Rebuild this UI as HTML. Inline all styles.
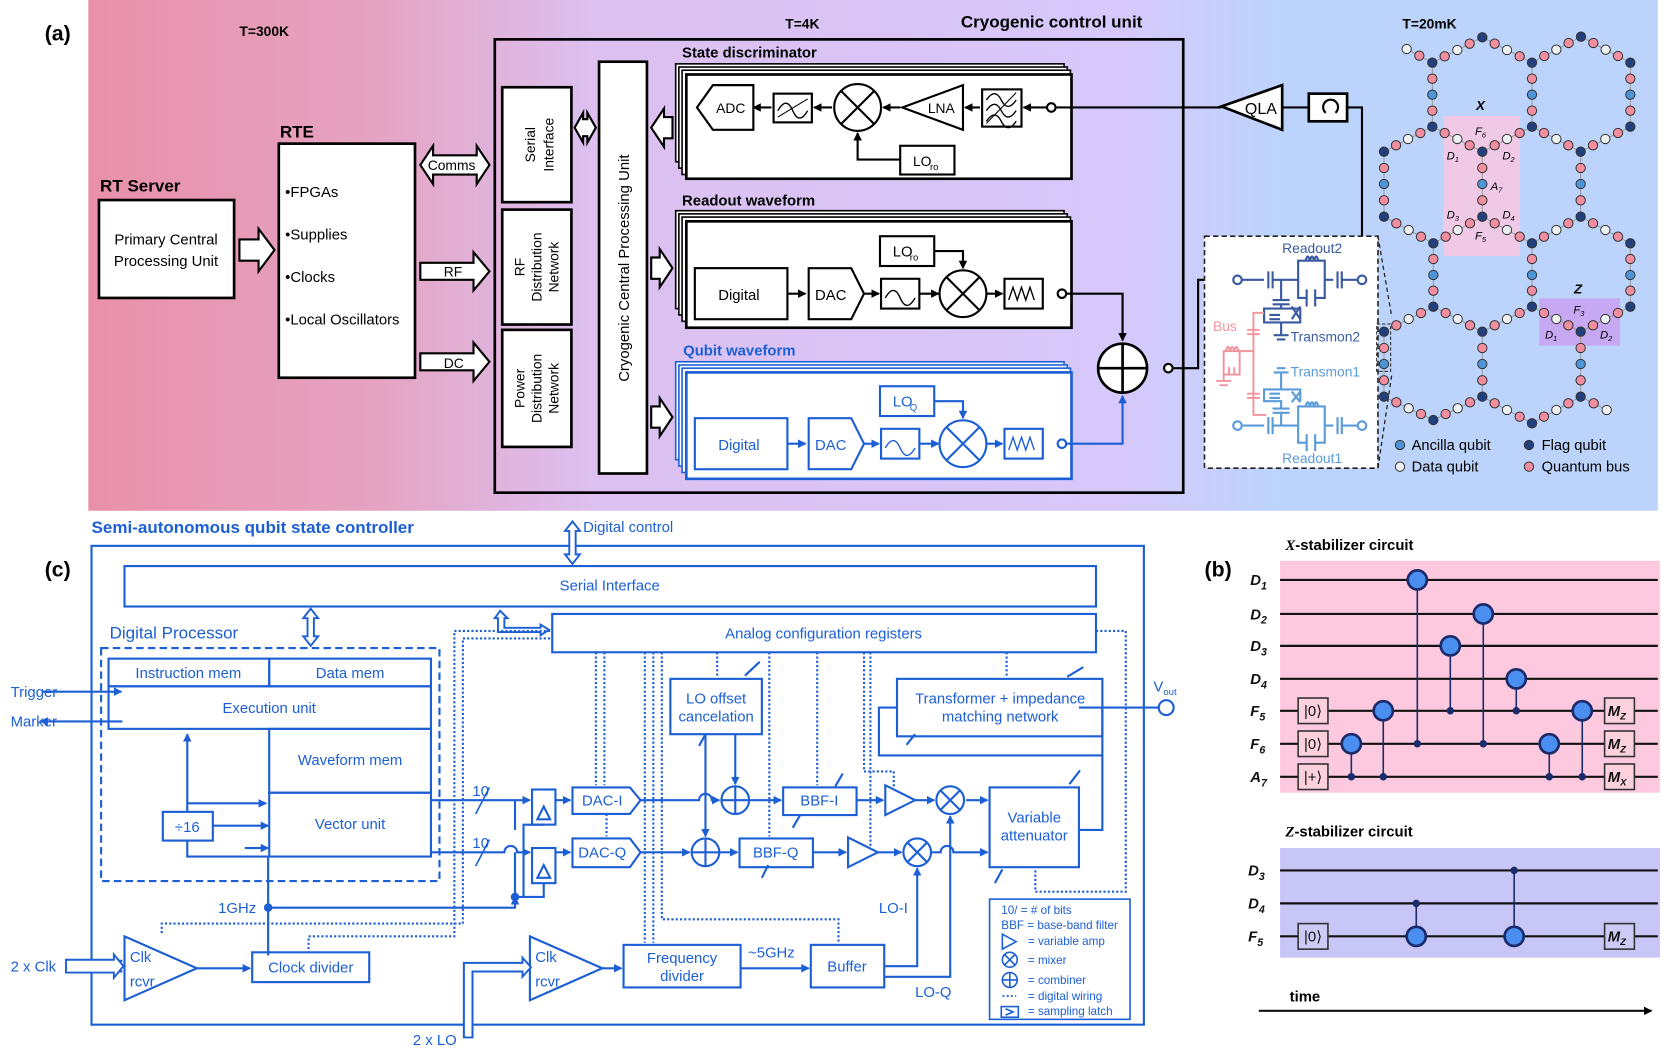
<!DOCTYPE html>
<html><head><meta charset="utf-8"><style>
html,body{margin:0;padding:0;background:#fff}
svg{display:block}
text{font-family:"Liberation Sans",sans-serif}
.it{font-family:"Liberation Serif",serif;font-style:italic;font-weight:bold}
</style></head><body>
<svg xmlns="http://www.w3.org/2000/svg" xmlns:xlink="http://www.w3.org/1999/xlink" width="1661" height="1055" viewBox="0 0 1561 991.5">
<defs>
<linearGradient id="bg" x1="0" x2="1" y1="0" y2="0">
<stop offset="0" stop-color="#e990ab"/><stop offset="0.18" stop-color="#e5a3c0"/><stop offset="0.32" stop-color="#dcc0ef"/><stop offset="0.66" stop-color="#d6c8fb"/><stop offset="0.76" stop-color="#bcd4fb"/><stop offset="1" stop-color="#bcd4fb"/>
</linearGradient>
<marker id="ab" markerWidth="8" markerHeight="8" refX="7" refY="4" orient="auto" markerUnits="userSpaceOnUse"><path d="M0,0 L8,4 L0,8z" fill="#1c5fd4"/></marker>
<marker id="ak" markerWidth="8" markerHeight="8" refX="7" refY="4" orient="auto" markerUnits="userSpaceOnUse"><path d="M0,0 L8,4 L0,8z" fill="#000"/></marker>
<circle id="nf" r="14" fill="#22407e" stroke="#333" stroke-width="3"/>
<circle id="nb" r="14" fill="#f28ea0" stroke="#333" stroke-width="3"/>
<circle id="nd" r="14" fill="#eef2f2" stroke="#333" stroke-width="3"/>
<circle id="na" r="14" fill="#4e95d8" stroke="#333" stroke-width="3"/>
</defs>
<rect x="83" y="0" width="1475" height="480" fill="url(#bg)"/>
<!-- (a) -->
<g font-size="13" fill="#000">
<text x="42" y="38" font-size="20" font-weight="bold">(a)</text>
<text x="225" y="34" font-weight="bold">T=300K</text>
<text x="738" y="27" font-weight="bold">T=4K</text>
<text x="903" y="26" font-size="16" font-weight="bold">Cryogenic control unit</text>
<text x="1318" y="27" font-weight="bold">T=20mK</text>
<text x="94" y="180" font-size="16" font-weight="bold">RT Server</text>
<text x="263" y="129" font-size="16" font-weight="bold">RTE</text>
</g>
<g fill="#fff" stroke="#000" stroke-width="2.5">
<rect x="93" y="188" width="127" height="92"/>
<rect x="262" y="135" width="128" height="220"/>
<rect x="465" y="37" width="647" height="426" fill="none"/>
<rect x="472" y="82" width="65" height="108"/>
<rect x="472" y="197" width="65" height="108"/>
<rect x="472" y="310" width="65" height="110"/>
<rect x="563" y="58" width="45" height="387"/>
</g>
<g font-size="14" fill="#000">
<text x="156" y="230" text-anchor="middle">Primary Central</text>
<text x="156" y="250" text-anchor="middle">Processing Unit</text>
<text x="268" y="185">•FPGAs</text>
<text x="268" y="225">•Supplies</text>
<text x="268" y="265">•Clocks</text>
<text x="268" y="305">•Local Oscillators</text>
<text transform="translate(503,136) rotate(-90)" text-anchor="middle" font-size="13">Serial</text>
<text transform="translate(520,136) rotate(-90)" text-anchor="middle" font-size="13">Interface</text>
<text transform="translate(493,251) rotate(-90)" text-anchor="middle" font-size="13">RF</text>
<text transform="translate(509,251) rotate(-90)" text-anchor="middle" font-size="13">Distribution</text>
<text transform="translate(525,251) rotate(-90)" text-anchor="middle" font-size="13">Network</text>
<text transform="translate(493,365) rotate(-90)" text-anchor="middle" font-size="13">Power</text>
<text transform="translate(509,365) rotate(-90)" text-anchor="middle" font-size="13">Distribution</text>
<text transform="translate(525,365) rotate(-90)" text-anchor="middle" font-size="13">Network</text>
<text transform="translate(591,252) rotate(-90)" text-anchor="middle" font-size="14">Cryogenic Central Processing Unit</text>
</g>
<g fill="#fff" stroke="#000" stroke-width="2">
<path d="M225,225 h18 v-10 l15,20 l-15,20 v-10 h-18z"/>
<path d="M395,155 l12,-18 v9 h41 v-9 l12,18 l-12,18 v-9 h-41 v9z"/>
<path d="M395,247 h50 v-10 l15,18 l-15,18 v-10 h-50z"/>
<path d="M395,332 h50 v-10 l15,18 l-15,18 v-10 h-50z"/>
<path d="M540,120 l8,-14 v6 h4 v-6 l8,14 l-8,14 v-6 h-4 v6z"/>
<path d="M632,110 h-8 v-8 l-12,18 l12,18 v-8 h8z"/>
<path d="M612,242 h8 v-8 l12,18 l-12,18 v-8 h-8z"/>
<path d="M612,382 h8 v-8 l12,18 l-12,18 v-8 h-8z"/>
</g>
<g font-size="13" fill="#000"><text x="402" y="160">Comms</text><text x="417" y="260">RF</text><text x="417" y="346">DC</text></g>
<g fill="#fff" stroke="#000" stroke-width="1.5">
<rect x="635" y="60" width="365" height="92"/><rect x="638" y="63" width="365" height="95"/><rect x="641" y="66" width="365" height="98"/>
<rect x="645" y="70" width="362" height="98" stroke-width="2.5"/>
<rect x="635" y="198" width="365" height="92"/><rect x="638" y="201" width="365" height="95"/><rect x="641" y="204" width="365" height="98"/>
<rect x="645" y="208" width="362" height="100" stroke-width="2.5"/>
</g>
<g fill="#fff" stroke="#1c5fd4" stroke-width="1.5">
<rect x="635" y="340" width="365" height="92"/><rect x="638" y="343" width="365" height="95"/><rect x="641" y="346" width="365" height="98"/>
<rect x="645" y="350" width="362" height="100" stroke-width="2.5"/>
</g>
<g font-size="14" font-weight="bold"><text x="641" y="54">State discriminator</text><text x="641" y="193">Readout waveform</text><text x="642" y="334" fill="#1c5fd4">Qubit waveform</text></g>
<g stroke="#000" stroke-width="2" fill="#fff">
<path d="M655,101 L670,80 H708 V122 H670z"/>
<rect x="727" y="88" width="36" height="27"/>
<circle cx="806" cy="101" r="22"/>
<path d="M790,85 L822,117 M822,85 L790,117"/>
<path d="M848,101 L905,80 V122z"/>
<rect x="923" y="84" width="37" height="35"/>
<rect x="846" y="137" width="51" height="27"/>
<path d="M725,101 H708" fill="none" marker-end="url(#ak)"/>
<path d="M782,101 H765" fill="none" marker-end="url(#ak)"/>
<path d="M846,101 H830" fill="none" marker-end="url(#ak)"/>
<path d="M921,101 H907" fill="none" marker-end="url(#ak)"/>
<path d="M984,101 H962" fill="none" marker-end="url(#ak)"/>
<path d="M846,150 H806 V125" fill="none" marker-end="url(#ak)"/>
<path d="M992,101 H1148" fill="none"/>
<circle cx="988" cy="101" r="4"/>
<path d="M731,104 q8,-14 14,0 t14,0 M927,94 q8,-12 14,0 t14,0 M927,104 q8,-12 14,0 t14,0 M927,114 q8,-12 14,0 t14,0" fill="none" stroke-width="1.3"/>
<path d="M731,110 L759,93 M927,116 L955,87" fill="none" stroke-width="1"/>
</g>
<g font-size="13"><text x="673" y="106">ADC</text><text x="872" y="106">LNA</text><text x="858" y="156">LO</text><text x="874" y="160" font-size="9">ro</text></g>
<g stroke="#000" stroke-width="2" fill="#fff">
<rect x="653" y="252" width="87" height="48"/>
<path d="M760,252 H800 L812,276 L800,300 H760z"/>
<rect x="828" y="262" width="36" height="28"/>
<circle cx="905" cy="276" r="22"/><path d="M889,260 L921,292 M921,260 L889,292"/>
<rect x="827" y="222" width="51" height="28"/>
<rect x="944" y="262" width="36" height="28"/>
<circle cx="998" cy="276" r="4"/>
<path d="M740,276 H757" fill="none" marker-end="url(#ak)"/>
<path d="M812,276 H826" fill="none" marker-end="url(#ak)"/>
<path d="M864,276 H882" fill="none" marker-end="url(#ak)"/>
<path d="M927,276 H942" fill="none" marker-end="url(#ak)"/>
<path d="M878,236 H905 V252" fill="none" marker-end="url(#ak)"/>
<path d="M1002,276 H1055 V320" fill="none" marker-end="url(#ak)"/>
<path d="M832,280 q8,-14 14,0 t14,0 M948,282 l4,-12 l4,12 l4,-12 l4,12 l4,-12 l4,12" fill="none" stroke-width="1.3"/>
</g>
<g font-size="14"><text x="675" y="282">Digital</text><text x="766" y="282">DAC</text><text x="839" y="241">LO</text><text x="855" y="245" font-size="9">ro</text></g>
<g stroke="#1c5fd4" stroke-width="2" fill="#fff">
<rect x="653" y="393" width="87" height="48"/>
<path d="M760,393 H800 L812,417 L800,441 H760z"/>
<rect x="828" y="403" width="36" height="28"/>
<circle cx="905" cy="417" r="22"/><path d="M889,401 L921,433 M921,401 L889,433"/>
<rect x="827" y="363" width="51" height="28"/>
<rect x="944" y="403" width="36" height="28"/>
<circle cx="998" cy="417" r="4"/>
<path d="M740,417 H757" fill="none" marker-end="url(#ab)"/>
<path d="M812,417 H826" fill="none" marker-end="url(#ab)"/>
<path d="M864,417 H882" fill="none" marker-end="url(#ab)"/>
<path d="M927,417 H942" fill="none" marker-end="url(#ab)"/>
<path d="M878,377 H905 V393" fill="none" marker-end="url(#ab)"/>
<path d="M1002,417 H1055 V372" fill="none" marker-end="url(#ab)"/>
<path d="M832,421 q8,-14 14,0 t14,0 M948,423 l4,-12 l4,12 l4,-12 l4,12 l4,-12 l4,12" fill="none" stroke-width="1.3"/>
</g>
<g font-size="14" fill="#1c5fd4"><text x="675" y="423">Digital</text><text x="766" y="423">DAC</text><text x="839" y="382">LO</text><text x="855" y="386" font-size="9">Q</text></g>
<g stroke="#000" stroke-width="2.5" fill="#fff">
<circle cx="1055" cy="346" r="23"/><path d="M1032,346 H1078 M1055,323 V369"/>
<circle cx="1098" cy="346" r="4" stroke-width="2"/>
<path d="M1102,346 H1126 V263 H1160" fill="none" stroke-width="2"/>
<path d="M1148,100 L1205,80 V122z"/>
<path d="M1205,101 H1230 M1266,101 H1280 V258" fill="none" stroke-width="2"/>
<rect x="1230" y="88" width="36" height="26"/>
<path d="M1255,106 a7,7 0 1 0 -9,0" fill="none" stroke-width="2"/>
</g>
<text x="1170" y="107" font-size="15">QLA</text>
<rect x="1132" y="222" width="163" height="218" fill="#fff" stroke="#222" stroke-width="1.5" stroke-dasharray="5,3"/>
<path d="M1295,222 L1308,298 M1295,440 L1308,352" stroke="#222" stroke-width="1.2" stroke-dasharray="4,3"/>
<g stroke="#3a5aa0" stroke-width="2" fill="none">
<circle cx="1163" cy="263" r="4"/><circle cx="1280" cy="263" r="4"/>
<path d="M1167,263 H1188 M1192,255 V271 M1196,255 V271 M1196,263 H1220 M1220,263 V245 H1245 V263 H1253 M1257,255 V271 M1261,255 V271 M1261,263 H1276 M1220,263 V280 H1228 M1236,280 H1245 V263 M1228,272 V288 M1236,272 V288 M1227,245 q2,-8 4,0 q2,-8 4,0 q2,-8 4,0"/>
<path d="M1204,263 V282 M1196,282 H1212 M1196,286 H1212 M1204,286 V290 H1188 V303 H1222 V290 H1204 M1193,296 H1203 M1193,300 H1203 M1214,288 L1222,300 M1222,288 L1214,300 M1204,303 V315 M1197,315 H1211 M1200,319 H1208"/>
</g>
<g stroke="#f2949e" stroke-width="1.8" fill="none">
<path d="M1188,294 H1178 V390 H1190 M1172,310 H1184 M1172,314 H1184 M1178,330 H1165 V352 H1150 V330 H1165 M1150,340 V358 M1143,358 H1157 M1146,362 H1154 M1155,352 V345 M1160,352 V345 M1172,370 H1184 M1172,374 H1184 M1152,330 q2,-8 4,0 q2,-8 4,0 q2,-8 4,0"/>
</g>
<g stroke="#5b9bdb" stroke-width="2" fill="none">
<circle cx="1163" cy="400" r="4"/><circle cx="1280" cy="400" r="4"/>
<path d="M1167,400 H1188 M1192,392 V408 M1196,392 V408 M1196,400 H1220 M1220,400 V382 H1245 V400 H1253 M1257,392 V408 M1261,392 V408 M1261,400 H1276 M1220,400 V416 H1228 M1236,416 H1245 V400 M1228,408 V424 M1236,408 V424 M1227,382 q2,-8 4,0 q2,-8 4,0 q2,-8 4,0"/>
<path d="M1204,400 V388 M1196,388 H1212 M1196,384 H1212 M1204,384 V377 H1188 V366 H1222 V377 M1193,370 H1203 M1193,374 H1203 M1214,368 L1222,378 M1222,368 L1214,378 M1204,366 V350 M1197,350 H1211 M1200,346 H1208"/>
</g>
<g font-size="13"><text x="1205" y="238" fill="#3a5aa0">Readout2</text><text x="1213" y="321" fill="#3a5aa0">Transmon2</text><text x="1213" y="354" fill="#5b9bdb">Transmon1</text><text x="1140" y="311" fill="#f2949e">Bus</text><text x="1205" y="435" fill="#5b9bdb">Readout1</text></g>
<!-- lattice -->
<g transform="scale(0.9398) translate(1150,0) scale(0.33333)">
<rect x="880" y="348" width="230" height="420" fill="#efc9e6"/>
<rect x="1168" y="895" width="242" height="142" fill="#c7a8f2"/>
<g fill="none" stroke="#999" stroke-width="3">
<polyline points="770,147 847,188 997,112 1146,188 1293,110 1441,188"/>
<polyline points="702,455 847,380 997,455 1146,380 1292,455 1441,380"/>
<polyline points="702,650 850,730 997,650 1146,730 1292,650 1441,730"/>
<polyline points="702,995 850,920 997,995 1146,920 1292,995 1441,920"/>
<polyline points="702,1190 850,1260 997,1190 1146,1270 1292,1190 1370,1230"/>
<path d="M847,188V380M1146,188V380M1441,188V380M702,455V650M997,455V650M1292,455V650M850,730V920M1146,730V920M1441,730V920M702,995V1190M997,995V1190M1292,995V1190"/>
</g>
<!-- Z0 -->
<use href="#nd" x="770" y="147"/><use href="#nb" x="808" y="167"/>
<use href="#nf" x="847" y="188"/><use href="#nb" x="884" y="169"/><use href="#nd" x="922" y="150"/><use href="#nb" x="959" y="131"/>
<use href="#nf" x="997" y="112"/><use href="#nb" x="1034" y="131"/><use href="#nd" x="1071" y="150"/><use href="#nb" x="1109" y="169"/>
<use href="#nf" x="1146" y="188"/><use href="#nb" x="1183" y="168"/><use href="#nd" x="1219" y="149"/><use href="#nb" x="1256" y="129"/>
<use href="#nf" x="1293" y="110"/><use href="#nb" x="1330" y="129"/><use href="#nd" x="1367" y="149"/><use href="#nb" x="1404" y="168"/>
<use href="#nf" x="1441" y="188"/>
<!-- V1 -->
<use href="#nb" x="847" y="236"/><use href="#na" x="847" y="284"/><use href="#nb" x="847" y="332"/>
<use href="#nb" x="1146" y="236"/><use href="#na" x="1146" y="284"/><use href="#nb" x="1146" y="332"/>
<use href="#nb" x="1441" y="236"/><use href="#na" x="1441" y="284"/><use href="#nb" x="1441" y="332"/>
<!-- Z1 -->
<use href="#nf" x="702" y="455"/><use href="#nb" x="738" y="436"/><use href="#nd" x="774" y="417"/><use href="#nb" x="811" y="399"/>
<use href="#nf" x="847" y="380"/><use href="#nb" x="884" y="399"/><use href="#nd" x="922" y="417"/><use href="#nb" x="959" y="436"/>
<use href="#nf" x="997" y="455"/><use href="#nb" x="1034" y="436"/><use href="#nd" x="1071" y="417"/><use href="#nb" x="1109" y="399"/>
<use href="#nf" x="1146" y="380"/><use href="#nb" x="1182" y="399"/><use href="#nd" x="1219" y="417"/><use href="#nb" x="1255" y="436"/>
<use href="#nf" x="1292" y="455"/><use href="#nb" x="1329" y="436"/><use href="#nd" x="1366" y="417"/><use href="#nb" x="1404" y="399"/>
<use href="#nf" x="1441" y="380"/>
<!-- V2 -->
<use href="#nb" x="702" y="504"/><use href="#na" x="702" y="552"/><use href="#nb" x="702" y="601"/>
<use href="#nb" x="997" y="504"/><use href="#na" x="997" y="552"/><use href="#nb" x="997" y="601"/>
<use href="#nb" x="1292" y="504"/><use href="#na" x="1292" y="552"/><use href="#nb" x="1292" y="601"/>
<!-- Z2 -->
<use href="#nf" x="702" y="650"/><use href="#nb" x="739" y="670"/><use href="#nd" x="776" y="690"/><use href="#nb" x="813" y="710"/>
<use href="#nf" x="850" y="730"/><use href="#nb" x="887" y="710"/><use href="#nd" x="923" y="690"/><use href="#nb" x="960" y="670"/>
<use href="#nf" x="997" y="650"/><use href="#nb" x="1034" y="670"/><use href="#nd" x="1071" y="690"/><use href="#nb" x="1109" y="710"/>
<use href="#nf" x="1146" y="730"/><use href="#nb" x="1182" y="710"/><use href="#nd" x="1219" y="690"/><use href="#nb" x="1255" y="670"/>
<use href="#nf" x="1292" y="650"/><use href="#nb" x="1329" y="670"/><use href="#nd" x="1366" y="690"/><use href="#nb" x="1404" y="710"/>
<use href="#nf" x="1441" y="730"/>
<!-- V3 -->
<use href="#nb" x="850" y="777"/><use href="#na" x="850" y="825"/><use href="#nb" x="850" y="872"/>
<use href="#nb" x="1146" y="777"/><use href="#na" x="1146" y="825"/><use href="#nb" x="1146" y="872"/>
<use href="#nb" x="1441" y="777"/><use href="#na" x="1441" y="825"/><use href="#nb" x="1441" y="872"/>
<!-- Z3 -->
<use href="#nf" x="702" y="995"/><use href="#nb" x="739" y="976"/><use href="#nd" x="776" y="957"/><use href="#nb" x="813" y="939"/>
<use href="#nf" x="850" y="920"/><use href="#nb" x="887" y="939"/><use href="#nd" x="923" y="957"/><use href="#nb" x="960" y="976"/>
<use href="#nf" x="997" y="995"/><use href="#nb" x="1034" y="976"/><use href="#nd" x="1071" y="957"/><use href="#nb" x="1109" y="939"/>
<use href="#nf" x="1146" y="920"/><use href="#nb" x="1182" y="939"/><use href="#nd" x="1219" y="957"/><use href="#nb" x="1255" y="976"/>
<use href="#nf" x="1292" y="995"/><use href="#nb" x="1329" y="976"/><use href="#nd" x="1366" y="957"/><use href="#nb" x="1404" y="939"/>
<use href="#nf" x="1441" y="920"/>
<!-- V4 -->
<use href="#nb" x="702" y="1044"/><use href="#na" x="702" y="1092"/><use href="#nb" x="702" y="1141"/>
<use href="#nb" x="997" y="1044"/><use href="#na" x="997" y="1092"/><use href="#nb" x="997" y="1141"/>
<use href="#nb" x="1292" y="1044"/><use href="#na" x="1292" y="1092"/><use href="#nb" x="1292" y="1141"/>
<!-- Z4 -->
<use href="#nf" x="702" y="1190"/><use href="#nb" x="739" y="1207"/><use href="#nd" x="776" y="1225"/><use href="#nb" x="813" y="1242"/>
<use href="#nf" x="850" y="1260"/><use href="#nb" x="887" y="1242"/><use href="#nd" x="923" y="1225"/><use href="#nb" x="960" y="1207"/>
<use href="#nf" x="997" y="1190"/><use href="#nb" x="1034" y="1210"/><use href="#nd" x="1071" y="1230"/><use href="#nb" x="1109" y="1250"/>
<use href="#nf" x="1146" y="1270"/><use href="#nb" x="1182" y="1250"/><use href="#nd" x="1219" y="1230"/><use href="#nb" x="1255" y="1210"/>
<use href="#nf" x="1292" y="1190"/><use href="#nb" x="1331" y="1210"/><use href="#nd" x="1370" y="1230"/>
<rect x="680" y="972" width="42" height="142" fill="none" stroke="#222" stroke-width="3" stroke-dasharray="10,6"/>
<g font-family="Liberation Serif" font-style="italic" font-size="34">
<text x="978" y="330" font-weight="bold" font-size="40">X</text><text x="1272" y="880" font-weight="bold" font-size="40">Z</text>
<text x="890" y="478">D<tspan font-size="22" dy="8">1</tspan></text><text x="1057" y="478">D<tspan font-size="22" dy="8">2</tspan></text>
<text x="975" y="405">F<tspan font-size="22" dy="8">6</tspan></text><text x="1022" y="570">A<tspan font-size="22" dy="8">7</tspan></text>
<text x="890" y="655">D<tspan font-size="22" dy="8">3</tspan></text><text x="1057" y="655">D<tspan font-size="22" dy="8">4</tspan></text>
<text x="975" y="718">F<tspan font-size="22" dy="8">5</tspan></text><text x="1270" y="940">F<tspan font-size="22" dy="8">3</tspan></text>
<text x="1185" y="1015">D<tspan font-size="22" dy="8">1</tspan></text><text x="1350" y="1015">D<tspan font-size="22" dy="8">2</tspan></text>
</g>
<use href="#na" x="750" y="1335"/><use href="#nd" x="750" y="1400"/><use href="#nf" x="1137" y="1335"/><use href="#nb" x="1137" y="1400"/>
<g font-size="44"><text x="785" y="1350">Ancilla qubit</text><text x="785" y="1415">Data qubit</text><text x="1175" y="1350">Flag qubit</text><text x="1175" y="1415">Quantum bus</text></g>
</g>
<!-- (c) -->
<g fill="none" stroke="#1c5fd4" stroke-width="2">
<rect x="86" y="513" width="989" height="450"/>
<rect x="117" y="532" width="913" height="38"/>
<rect x="95" y="609" width="318" height="219" stroke-dasharray="7,4"/>
<rect x="102" y="619" width="151" height="26"/><rect x="253" y="619" width="152" height="26"/>
<rect x="102" y="645" width="303" height="40"/>
<rect x="253" y="685" width="152" height="60"/><rect x="253" y="745" width="152" height="60"/>
<rect x="153" y="763" width="47" height="27"/>
<rect x="519" y="577" width="511" height="36"/>
<rect x="630" y="638" width="86" height="52"/>
<rect x="843" y="638" width="193" height="54"/>
<path d="M538,740 H592 L602,752 L592,765 H538z M538,788 H592 L602,801 L592,815 H538z"/>
<rect x="736" y="740" width="69" height="26"/><rect x="695" y="788" width="69" height="27"/>
<rect x="930" y="740" width="84" height="75"/>
<circle cx="691" cy="752" r="13"/><path d="M678,752 H704 M691,739 V765"/>
<circle cx="663" cy="801" r="13"/><path d="M650,801 H676 M663,788 V814"/>
<circle cx="893" cy="752" r="13"/><path d="M884,743 L902,761 M902,743 L884,761"/>
<circle cx="862" cy="801" r="13"/><path d="M853,792 L871,810 M871,792 L853,810"/>
<path d="M832,738 L860,752 L832,766z M797,787 L825,801 L797,815z"/>
<rect x="500" y="742" width="22" height="33"/><rect x="500" y="797" width="22" height="33"/>
<path d="M505,770 L511,758 L517,770z M505,825 L511,813 L517,825z"/>
<circle cx="1096" cy="665" r="7"/>
<path d="M117,880 L185,910 L117,940z M498,880 L566,910 L498,940z"/>
<rect x="237" y="895" width="110" height="28"/>
<rect x="586" y="888" width="110" height="40"/>
<rect x="762" y="888" width="69" height="40"/>
<rect x="930" y="845" width="132" height="113" stroke-width="1.5"/>
<g marker-end="url(#ab)">
<path d="M405,752 H498"/><path d="M405,801 H474 a6,6 0 0 1 12,0 H498"/>
<path d="M522,752 H536"/><path d="M522,801 H536"/>
<path d="M602,752 H657 a6,6 0 0 1 12,0 H676"/><path d="M704,752 H734"/>
<path d="M602,801 H648"/><path d="M676,801 H693"/><path d="M764,801 H795"/>
<path d="M805,752 H830"/><path d="M860,752 H878"/><path d="M825,801 H847"/>
<path d="M908,752 H928"/><path d="M875,801 H884 a6,6 0 0 1 12,0 H928"/>
<path d="M663,690 V786"/><path d="M691,690 V737"/>
<path d="M831,908 H862 V816"/><path d="M831,918 H893 V767"/>
<path d="M185,910 H235"/><path d="M566,910 H584"/><path d="M696,910 H760"/>
<path d="M40,650 H114"/><path d="M115,678 H38"/>
<path d="M252,853 H484 V843"/>
<path d="M176,763 V690"/><path d="M200,776 H252"/><path d="M176,755 H250"/>
<path d="M230,797 H252"/>
</g>
<path d="M1014,665 H1089 M1036,665 V780 H1014 M843,665 H826 V710 H1036 V665"/>
<path d="M176,790 V805 H252 M252,805 V898"/>
<path d="M484,843 V801 M484,843 H492 V775 H511 M511,830 V843 H484"/>
<path d="M484,780 V752"/>
<path d="M62,903 H115 M62,913 H115 M436,975 V905 H496 M444,975 V913 H496"/>
<path d="M657,701 L663,690 M700,635 L714,622 M935,830 L942,817 M1005,737 L1015,724 M745,778 L752,766 M785,739 L792,727 M716,825 L722,813 M852,700 L860,690 M1003,636 L1018,627"/>
</g>
<circle cx="252" cy="853" r="4" fill="#1c5fd4"/><circle cx="484" cy="843" r="4" fill="#1c5fd4"/>
<!-- hollow double arrows -->
<g fill="#fff" stroke="#1c5fd4" stroke-width="1.8">
<path d="M538,490 l-7,9 h4 v22 h-4 l7,9 l7,-9 h-4 v-22 h4z"/>
<path d="M292,572 l-7,9 h4 v17 h-4 l7,9 l7,-9 h-4 v-17 h4z"/>
<path d="M470,574 l-5,7 h3 v13 h40 v3 l8,-5 l-8,-5 v3 h-34 v-9 h3z"/>
<path d="M62,902 h45 v-5 l9,11 l-9,11 v-5 h-45z"/>
<path d="M436,975 v-70 h55 v-5 l8,9 l-8,9 v-5 h-47 v62z"/>
</g>
<g fill="none" stroke="#1c5fd4" stroke-width="2" stroke-dasharray="2,2">
<path d="M560,613 V738 M568,613 V738 M570,765 V786 M606,613 V886 M614,613 V886 M622,613 V864 H788 V886 M674,613 V636 M768,613 V738 M723,613 V786 M812,613 V725 H840 V740 M818,613 V795 M946,613 V636 M1030,593 H1058 V838 H973 V817 M517,593 H427 V880 H290 V893 M517,600 H435 V868 H152 V878"/>
</g>
<g fill="#1c5fd4" font-size="14">
<text x="86" y="501" font-size="16" font-weight="bold">Semi-autonomous qubit state controller</text>
<text x="548" y="500">Digital control</text>
<text x="42" y="542" font-size="20" font-weight="bold" fill="#000">(c)</text>
<text x="573" y="555" text-anchor="middle">Serial Interface</text>
<text x="103" y="600" font-size="16">Digital Processor</text>
<text x="177" y="637" text-anchor="middle">Instruction mem</text>
<text x="329" y="637" text-anchor="middle">Data mem</text>
<text x="253" y="670" text-anchor="middle">Execution unit</text>
<text x="329" y="719" text-anchor="middle">Waveform mem</text>
<text x="329" y="779" text-anchor="middle">Vector unit</text>
<text x="176" y="782" text-anchor="middle">÷16</text>
<text x="10" y="655">Trigger</text><text x="10" y="683">Marker</text>
<text x="774" y="600" text-anchor="middle">Analog configuration registers</text>
<text x="673" y="661" text-anchor="middle">LO offset</text><text x="673" y="678" text-anchor="middle">cancelation</text>
<text x="940" y="661" text-anchor="middle">Transformer + impedance</text><text x="940" y="678" text-anchor="middle">matching network</text>
<text x="566" y="757" text-anchor="middle">DAC-I</text><text x="566" y="806" text-anchor="middle">DAC-Q</text>
<text x="770" y="757" text-anchor="middle">BBF-I</text><text x="729" y="806" text-anchor="middle">BBF-Q</text>
<text x="972" y="773" text-anchor="middle">Variable</text><text x="972" y="790" text-anchor="middle">attenuator</text>
<text x="1084" y="650">V<tspan font-size="9" dy="3">out</tspan></text>
<text x="444" y="748">10</text><text x="444" y="797">10</text>
<text x="205" y="858">1GHz</text>
<text x="10" y="913">2 x Clk</text>
<text x="122" y="904">Clk</text><text x="122" y="927">rcvr</text>
<text x="503" y="904">Clk</text><text x="503" y="927">rcvr</text>
<text x="292" y="914" text-anchor="middle">Clock divider</text>
<text x="641" y="905" text-anchor="middle">Frequency</text><text x="641" y="922" text-anchor="middle">divider</text>
<text x="703" y="900">~5GHz</text>
<text x="796" y="913" text-anchor="middle">Buffer</text>
<text x="826" y="858">LO-I</text><text x="860" y="937">LO-Q</text>
<text x="388" y="982">2 x LO</text>
<g font-size="11"><text x="941" y="859">10/ = # of bits</text><text x="941" y="873">BBF = base-band filter</text><text x="966" y="888">= variable amp</text><text x="966" y="906">= mixer</text><text x="966" y="925">= combiner</text><text x="966" y="940">= digital wiring</text><text x="966" y="954">= sampling latch</text></g>
</g>
<g fill="none" stroke="#1c5fd4" stroke-width="1.5">
<path d="M942,878 L955,885 L942,892z"/><circle cx="949" cy="902" r="7"/><path d="M944,897 L954,907 M954,897 L944,907"/>
<circle cx="949" cy="921" r="7"/><path d="M942,921 H956 M949,914 V928"/>
<path d="M942,936 H955" stroke-dasharray="2,2"/><rect x="941" y="946" width="16" height="10"/><path d="M945,948 L952,951 L945,954"/>
</g>
<path d="M447,765 L460,740 M447,814 L460,789" stroke="#1c5fd4" stroke-width="1.5"/>
<!-- (b) -->
<text x="1132" y="542" font-size="20" font-weight="bold">(b)</text>
<text x="1208" y="517" font-size="14" font-weight="bold"><tspan font-family="Liberation Serif" font-style="italic">X</tspan>-stabilizer circuit</text>
<text x="1208" y="786" font-size="14" font-weight="bold"><tspan font-family="Liberation Serif" font-style="italic">Z</tspan>-stabilizer circuit</text>
<rect x="1203" y="527" width="357" height="218" fill="#fdc9df"/>
<rect x="1203" y="797" width="357" height="103" fill="#c8c6f6"/>
<g stroke="#111" stroke-width="2">
<path d="M1203,545H1558M1203,577H1558M1203,607H1558M1203,638H1558M1203,668H1558M1203,699H1558M1203,730H1558M1203,818H1558M1203,849H1558M1203,880H1558"/>
</g>
<g font-size="14" class="it" fill="#111">
<text x="1175" y="550">D<tspan dy="4" font-size="10">1</tspan></text>
<text x="1175" y="582">D<tspan dy="4" font-size="10">2</tspan></text>
<text x="1175" y="612">D<tspan dy="4" font-size="10">3</tspan></text>
<text x="1175" y="643">D<tspan dy="4" font-size="10">4</tspan></text>
<text x="1175" y="673">F<tspan dy="4" font-size="10">5</tspan></text>
<text x="1175" y="704">F<tspan dy="4" font-size="10">6</tspan></text>
<text x="1175" y="735">A<tspan dy="4" font-size="10">7</tspan></text>
<text x="1173" y="823">D<tspan dy="4" font-size="10">3</tspan></text>
<text x="1173" y="854">D<tspan dy="4" font-size="10">4</tspan></text>
<text x="1173" y="885">F<tspan dy="4" font-size="10">5</tspan></text>
</g>
<g fill="#fcd0dc" stroke="#333" stroke-width="1.5">
<rect x="1220" y="656" width="28" height="24"/><rect x="1220" y="687" width="28" height="24"/><rect x="1220" y="718" width="28" height="24"/>
<rect x="1508" y="656" width="28" height="24"/><rect x="1508" y="687" width="28" height="24"/><rect x="1508" y="718" width="28" height="24"/>
<rect x="1220" y="868" width="28" height="24" fill="#cdcaf5"/><rect x="1508" y="868" width="28" height="24" fill="#cdcaf5"/>
</g>
<g font-size="14" font-family="Liberation Serif" fill="#111" text-anchor="middle">
<text x="1234" y="673">|0⟩</text><text x="1234" y="704">|0⟩</text><text x="1234" y="735">|+⟩</text><text x="1234" y="885">|0⟩</text>
</g>
<g font-size="14" class="it" fill="#111">
<text x="1511" y="673">M<tspan dy="3" font-size="9">Z</tspan></text><text x="1511" y="704">M<tspan dy="3" font-size="9">Z</tspan></text><text x="1511" y="735">M<tspan dy="3" font-size="9">X</tspan></text><text x="1511" y="885">M<tspan dy="3" font-size="9">Z</tspan></text>
</g>
<g stroke="#1a2a6a" stroke-width="1.5">
<path d="M1270,699V730M1300,668V730M1332,545V699M1363,607V668M1394,577V699M1425,638V668M1456,699V730M1487,668V730M1331,849V880M1423,818V880"/>
</g>
<g fill="#1a2a6a">
<circle cx="1270" cy="730" r="3.5"/><circle cx="1300" cy="730" r="3.5"/><circle cx="1332" cy="699" r="3.5"/><circle cx="1363" cy="668" r="3.5"/><circle cx="1394" cy="699" r="3.5"/><circle cx="1425" cy="668" r="3.5"/><circle cx="1456" cy="730" r="3.5"/><circle cx="1487" cy="730" r="3.5"/><circle cx="1331" cy="849" r="3.5"/><circle cx="1423" cy="818" r="3.5"/>
</g>
<g fill="#4a8ff0" stroke="#1a2a6a" stroke-width="2.5">
<circle cx="1270" cy="699" r="9"/><circle cx="1300" cy="668" r="9"/><circle cx="1332" cy="545" r="9"/><circle cx="1363" cy="607" r="9"/><circle cx="1394" cy="577" r="9"/><circle cx="1425" cy="638" r="9"/><circle cx="1456" cy="699" r="9"/><circle cx="1487" cy="668" r="9"/><circle cx="1331" cy="880" r="9"/><circle cx="1423" cy="880" r="9"/>
</g>
<text x="1212" y="941" font-size="14" font-weight="bold">time</text>
<path d="M1183,950 H1552" stroke="#111" stroke-width="2" marker-end="url(#ak)"/>
</svg>
</body></html>
